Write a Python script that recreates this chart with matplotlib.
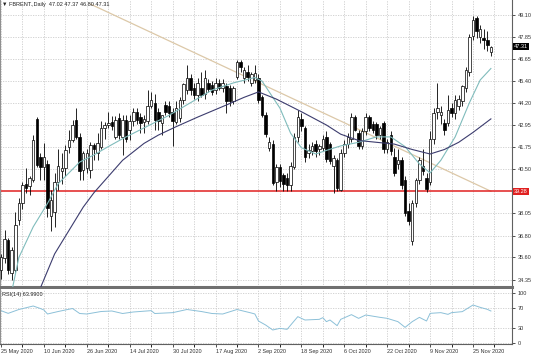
import numpy as np
import matplotlib
matplotlib.use("Agg")
import matplotlib.pyplot as plt
from matplotlib.transforms import blended_transform_factory

plt.rcParams['font.family'] = ['Liberation Sans', 'DejaVu Sans']

# daily candles, 25 May 2020 .. 2 Dec 2020 (one entry per bar)
opens = [
    34.90, 35.55, 36.55, 34.75, 34.90, 37.70, 38.60, 39.70, 39.55, 39.90, 43.30, 41.20,
    40.65, 40.80, 37.90, 38.15, 39.80, 40.40, 40.55, 41.75, 42.15, 43.25, 42.30, 40.45,
    40.55, 40.45, 41.85, 41.40, 41.75, 42.80, 42.95, 43.15, 42.30, 43.35, 42.30, 43.25,
    42.70, 43.20, 43.70, 43.40, 43.10, 43.20, 44.00, 44.20, 43.70, 43.05, 44.05, 44.00,
    43.70, 43.15, 43.35, 44.35, 44.90, 45.60, 45.00, 44.60, 45.00, 44.70, 45.30, 45.20,
    44.90, 45.30, 45.00, 45.10, 45.00, 44.30, 45.65, 46.45, 45.60, 45.90, 45.30, 45.45,
    45.60, 44.50, 43.50, 41.70, 41.90, 39.80, 40.60, 40.20, 40.00, 39.60, 40.65, 42.30,
    43.30, 42.80, 41.40, 41.50, 41.90, 41.60, 41.70, 42.30, 41.90, 40.70, 41.00, 39.35,
    41.40, 41.90, 42.20, 43.40, 42.50, 41.80, 42.60, 43.40, 43.00, 43.00, 42.40, 43.05,
    41.60, 42.40, 41.20, 40.80, 41.00, 39.90, 38.20, 36.50, 38.60, 39.90, 40.70, 40.00,
    39.80, 42.20, 43.70, 43.50, 43.05, 43.05, 43.90, 43.60, 44.00, 44.30, 45.00, 45.90,
    47.90, 48.90, 47.85, 47.80, 47.70, 47.02,
]
highs = [
    35.80, 37.10, 36.70, 36.20, 38.10, 38.90, 39.80, 40.55, 40.10, 42.40, 43.40, 41.40,
    41.95, 41.00, 39.35, 40.30, 41.65, 41.40, 41.85, 42.70, 43.25, 43.90, 42.50, 41.50,
    41.60, 42.00, 41.95, 42.50, 43.20, 43.10, 43.70, 43.45, 43.45, 43.60, 43.50, 43.50,
    43.50, 43.90, 43.90, 43.60, 43.50, 44.90, 44.80, 44.70, 43.90, 43.50, 44.30, 44.30,
    43.90, 44.30, 44.50, 45.30, 46.30, 45.80, 45.30, 45.60, 45.90, 46.00, 45.50, 45.40,
    45.60, 45.50, 45.50, 45.30, 45.20, 45.10, 46.60, 46.60, 46.20, 46.30, 45.90, 46.30,
    45.80, 44.60, 43.70, 42.30, 42.10, 40.80, 40.80, 40.30, 40.30, 40.90, 42.50, 43.80,
    43.60, 42.90, 41.90, 42.00, 42.10, 41.90, 42.40, 42.60, 42.00, 41.30, 41.10, 41.60,
    42.10, 42.50, 43.60, 43.50, 42.70, 42.80, 43.60, 43.50, 43.20, 43.10, 42.90, 43.20,
    42.20, 42.60, 41.70, 41.60, 41.20, 40.10, 38.60, 38.80, 40.00, 41.20, 41.60, 40.30,
    42.60, 43.90, 45.30, 44.00, 43.30, 44.60, 44.20, 44.60, 44.60, 45.20, 46.20, 48.00,
    49.00, 49.00, 48.50, 48.30, 48.20, 47.37,
]
lows = [
    34.40, 35.30, 34.70, 34.35, 34.80, 37.40, 38.30, 39.20, 39.05, 39.80, 40.60, 39.90,
    39.90, 37.85, 37.05, 37.30, 39.35, 39.70, 40.10, 41.40, 42.00, 42.20, 39.90, 39.90,
    40.30, 40.00, 41.00, 41.00, 41.60, 42.20, 42.80, 42.70, 42.20, 42.20, 41.30, 42.00,
    42.10, 42.90, 43.00, 42.50, 42.50, 43.00, 43.90, 42.70, 42.70, 42.40, 43.50, 43.40,
    41.80, 43.00, 43.10, 44.10, 44.70, 44.60, 44.40, 44.30, 44.50, 44.40, 44.80, 44.60,
    44.70, 44.90, 44.80, 43.60, 44.00, 44.10, 45.50, 45.90, 45.30, 45.40, 45.10, 45.30,
    44.20, 43.40, 42.30, 41.50, 39.60, 39.30, 39.50, 39.30, 39.30, 39.30, 40.50, 42.00,
    42.60, 40.90, 41.10, 41.30, 41.20, 41.30, 41.50, 40.90, 40.80, 39.20, 39.30, 39.30,
    41.20, 41.70, 42.00, 42.60, 41.60, 41.60, 42.40, 42.60, 42.50, 42.20, 42.20, 41.40,
    41.40, 41.30, 40.10, 40.50, 39.40, 37.90, 37.40, 36.30, 38.40, 39.70, 40.20, 39.26,
    39.60, 41.90, 43.30, 43.00, 42.40, 42.90, 43.40, 43.30, 43.80, 44.00, 44.80, 45.70,
    47.70, 47.80, 47.50, 47.20, 47.10, 46.80,
]
closes = [
    35.60, 36.65, 34.90, 36.00, 37.40, 38.60, 39.60, 39.45, 40.00, 42.10, 40.75, 40.65,
    41.20, 38.35, 38.80, 39.80, 40.70, 40.55, 41.55, 42.15, 42.95, 42.30, 40.40, 41.40,
    41.40, 41.85, 41.60, 41.95, 42.80, 42.95, 43.05, 42.90, 43.25, 42.40, 43.25, 42.20,
    43.20, 43.70, 43.25, 43.05, 43.30, 44.00, 44.35, 43.25, 43.20, 43.50, 43.70, 43.60,
    43.20, 43.90, 44.35, 45.25, 45.60, 44.90, 44.60, 45.30, 44.60, 45.55, 44.95, 44.80,
    45.30, 45.00, 45.30, 44.30, 44.30, 45.00, 46.45, 46.20, 46.00, 45.65, 45.80, 45.85,
    44.35, 43.50, 42.45, 42.00, 39.75, 40.60, 39.85, 39.70, 39.60, 40.70, 42.30, 43.40,
    42.90, 41.20, 41.55, 41.80, 41.50, 41.80, 42.20, 41.05, 40.95, 41.10, 39.45, 41.40,
    41.90, 42.30, 43.40, 42.70, 41.80, 42.60, 43.40, 42.80, 42.70, 42.40, 42.80, 41.60,
    42.00, 41.50, 40.30, 41.00, 39.60, 38.05, 37.60, 38.60, 39.90, 41.00, 40.40, 39.40,
    42.20, 43.60, 43.90, 43.70, 42.70, 43.80, 43.60, 44.35, 44.40, 45.10, 46.00, 47.85,
    48.80, 48.20, 48.30, 47.70, 47.40, 47.31,
]

# moving averages (bar index, price)
ma_fast_bars = [3, 5, 9, 13, 16, 19, 22, 26, 30, 34, 40, 47, 53, 59, 65, 71, 73, 75, 78, 81,
                84, 88, 91, 95, 100, 105, 109, 113, 117, 120, 123, 127, 131, 134, 137]
ma_fast_vals = [33.7, 35.6, 37.3, 38.6, 39.7, 40.3, 40.9, 41.3, 41.76, 42.2, 42.8, 43.5, 44.2,
                44.9, 45.3, 45.6, 45.4, 44.8, 43.9, 42.5, 41.7, 41.35, 41.55, 41.8, 42.0,
                42.3, 42.3, 41.76, 40.8, 40.3, 41.0, 42.3, 44.2, 45.46, 46.1]
ma_slow_bars = [11, 15, 19, 23, 26, 30, 34, 40, 44, 49, 55, 63, 68, 72, 77, 84, 91, 95, 100,
                105, 110, 115, 120, 124, 128, 132, 137]
ma_slow_vals = [33.9, 35.8, 37.1, 38.4, 39.2, 40.1, 41.0, 41.94, 42.4, 42.87, 43.4, 44.07,
                44.5, 44.8, 44.4, 43.7, 42.96, 42.45, 42.1, 42.0, 41.9, 41.6, 41.35, 41.6,
                42.0, 42.55, 43.3]

# RSI(14)
rsi_bars = [0, 2, 5, 9, 11, 12, 13, 16, 20, 22, 24, 28, 31, 34, 37, 42, 43, 48, 52, 56, 59,
            62, 66, 70, 71, 72, 74, 76, 78, 80, 83, 85, 89, 90, 91, 92, 94, 95, 98, 100, 102,
            106, 108, 111, 113, 115, 117, 119, 120, 123, 125, 126, 129, 132, 134, 136, 137]
rsi_vals = [64.7, 59.3, 67, 74, 69, 66, 58, 63, 69, 59, 58, 63, 64, 59, 62, 64.7, 59, 60.7,
            67, 63, 59, 58, 67, 60, 58, 44, 36, 26, 29.3, 27.3, 52.7, 46, 47.3, 50.7, 42.7,
            46, 34.7, 47.3, 56.7, 49.3, 56, 51.3, 49.3, 42.7, 31.3, 42.7, 51.3, 44, 59.3,
            60.7, 57.3, 60.7, 62.7, 76, 71.3, 67.3, 63.99]

trend_bars = [25, 137]
trend_vals = [49.68, 39.28]
support_level = 39.28

price_ticks = [49.10, 47.85, 46.65, 45.40, 44.20, 42.95, 41.75, 40.50, 38.05, 36.80, 35.60, 34.35]
date_bars = [0, 12, 24, 36, 48, 60, 72, 84, 96, 108, 120, 132]
date_labels = ['25 May 2020', '10 Jun 2020', '26 Jun 2020', '14 Jul 2020', '30 Jul 2020',
               '17 Aug 2020', '2 Sep 2020', '18 Sep 2020', '6 Oct 2020', '22 Oct 2020',
               '9 Nov 2020', '25 Nov 2020']
rsi_ticks = [100, 70, 30, 0]

W, H = 536, 357
fig = plt.figure(figsize=(W / 100, H / 100), dpi=100)
ax = fig.add_axes([0, 1 - 287 / H, 512 / W, 287 / H])
ax_rsi = fig.add_axes([0, 1 - 344 / H, 512 / W, 55 / H], sharex=ax)

grid_kw = dict(color='#cccccc', linestyle=(0, (1.5, 1.5)), linewidth=0.6)
FS = 4.0
TXT = '#333333'

o, h, l, c = (np.array(a) for a in (opens, highs, lows, closes))
idx = np.arange(len(c))
up = c >= o

ax.vlines(idx, l, h, color='black', linewidth=0.6, zorder=3)
ax.bar(idx[up], (c - o)[up], bottom=o[up], width=0.7, facecolor='white',
       edgecolor='black', linewidth=0.5, zorder=4)
ax.bar(idx[~up], (o - c)[~up], bottom=c[~up], width=0.7, facecolor='black',
       edgecolor='black', linewidth=0.5, zorder=4)

ax.plot(ma_fast_bars, ma_fast_vals, color='#80bcbc', linewidth=0.8, zorder=5)
ax.plot(ma_slow_bars, ma_slow_vals, color='#3c3c6e', linewidth=0.8, zorder=5)
ax.plot(trend_bars, trend_vals, color='#dcc8a8', linewidth=0.9, zorder=2)
ax.axhline(support_level, color='#e02020', linewidth=1.1, zorder=2)

ax.set_xlim(-0.28, 142.9)
ax.set_ylim(33.96, 49.906)
# square MT4-style grid: a vertical line every 6 bars
ax.set_xticks(date_bars)
ax.set_xticks([b + 6 for b in date_bars], minor=True)
ax.tick_params(axis='x', which='both', bottom=False, labelbottom=False)
ax.yaxis.tick_right()
ax.set_yticks(price_ticks)
ax.set_yticklabels([f'{v:.2f}' for v in price_ticks])
ax.tick_params(axis='y', labelsize=FS, length=2.5, width=0.6, pad=1.5, colors=TXT)
ax.grid(True, which='both', **grid_kw)
ax.set_axisbelow(True)
ax.spines['top'].set_visible(False)
ax.spines['left'].set_color('#909090')
ax.spines['left'].set_linewidth(0.8)
ax.spines['right'].set_color('#606060')
ax.spines['bottom'].set_color('#707070')
ax.spines['bottom'].set_linewidth(2.2)

tr = blended_transform_factory(ax.transAxes, ax.transData)
ax.text(1.004, support_level, f'{support_level:.2f}', transform=tr, fontsize=FS, color='white',
        va='center', ha='left', bbox=dict(boxstyle='square,pad=0.2', fc='#e02020', ec='none'))
ax.text(1.004, c[-1], f'{c[-1]:.2f}', transform=tr, fontsize=FS, color='white',
        va='center', ha='left', bbox=dict(boxstyle='square,pad=0.2', fc='black', ec='none'))
ax.text(0.004, 0.992, f'\u25bc FBRENT.,Daily  {o[-1]:.2f} {h[-1]:.2f} {l[-1]:.2f} {c[-1]:.2f}',
        transform=ax.transAxes, fontsize=FS, va='top', ha='left', color='#222222')

# RSI panel
ax_rsi.plot(rsi_bars, rsi_vals, color='#8cc0d8', linewidth=0.7)
ax_rsi.set_ylim(-2, 108)
ax_rsi.yaxis.tick_right()
ax_rsi.set_yticks(rsi_ticks)
ax_rsi.set_yticklabels([str(v) for v in rsi_ticks])
ax_rsi.tick_params(axis='y', labelsize=FS, length=2.5, width=0.6, pad=1.5, colors=TXT)
ax_rsi.set_xticks(date_bars)
ax_rsi.set_xticklabels(date_labels)
ax_rsi.tick_params(axis='x', labelsize=FS, length=2.5, width=0.6, pad=1.0, colors=TXT)
for lab in ax_rsi.get_xticklabels():
    lab.set_horizontalalignment('left')
ax_rsi.grid(True, which='both', **grid_kw)
ax_rsi.set_axisbelow(True)
ax_rsi.spines['top'].set_visible(False)
ax_rsi.spines['left'].set_color('#909090')
ax_rsi.spines['left'].set_linewidth(0.8)
ax_rsi.spines['right'].set_color('#606060')
ax_rsi.spines['bottom'].set_color('#606060')
ax_rsi.text(0.004, 0.95, f'RSI(14) {rsi_vals[-1]:.4f}', transform=ax_rsi.transAxes,
            fontsize=FS, va='top', ha='left', color='#222222')

fig.savefig('out.png', dpi=100)
